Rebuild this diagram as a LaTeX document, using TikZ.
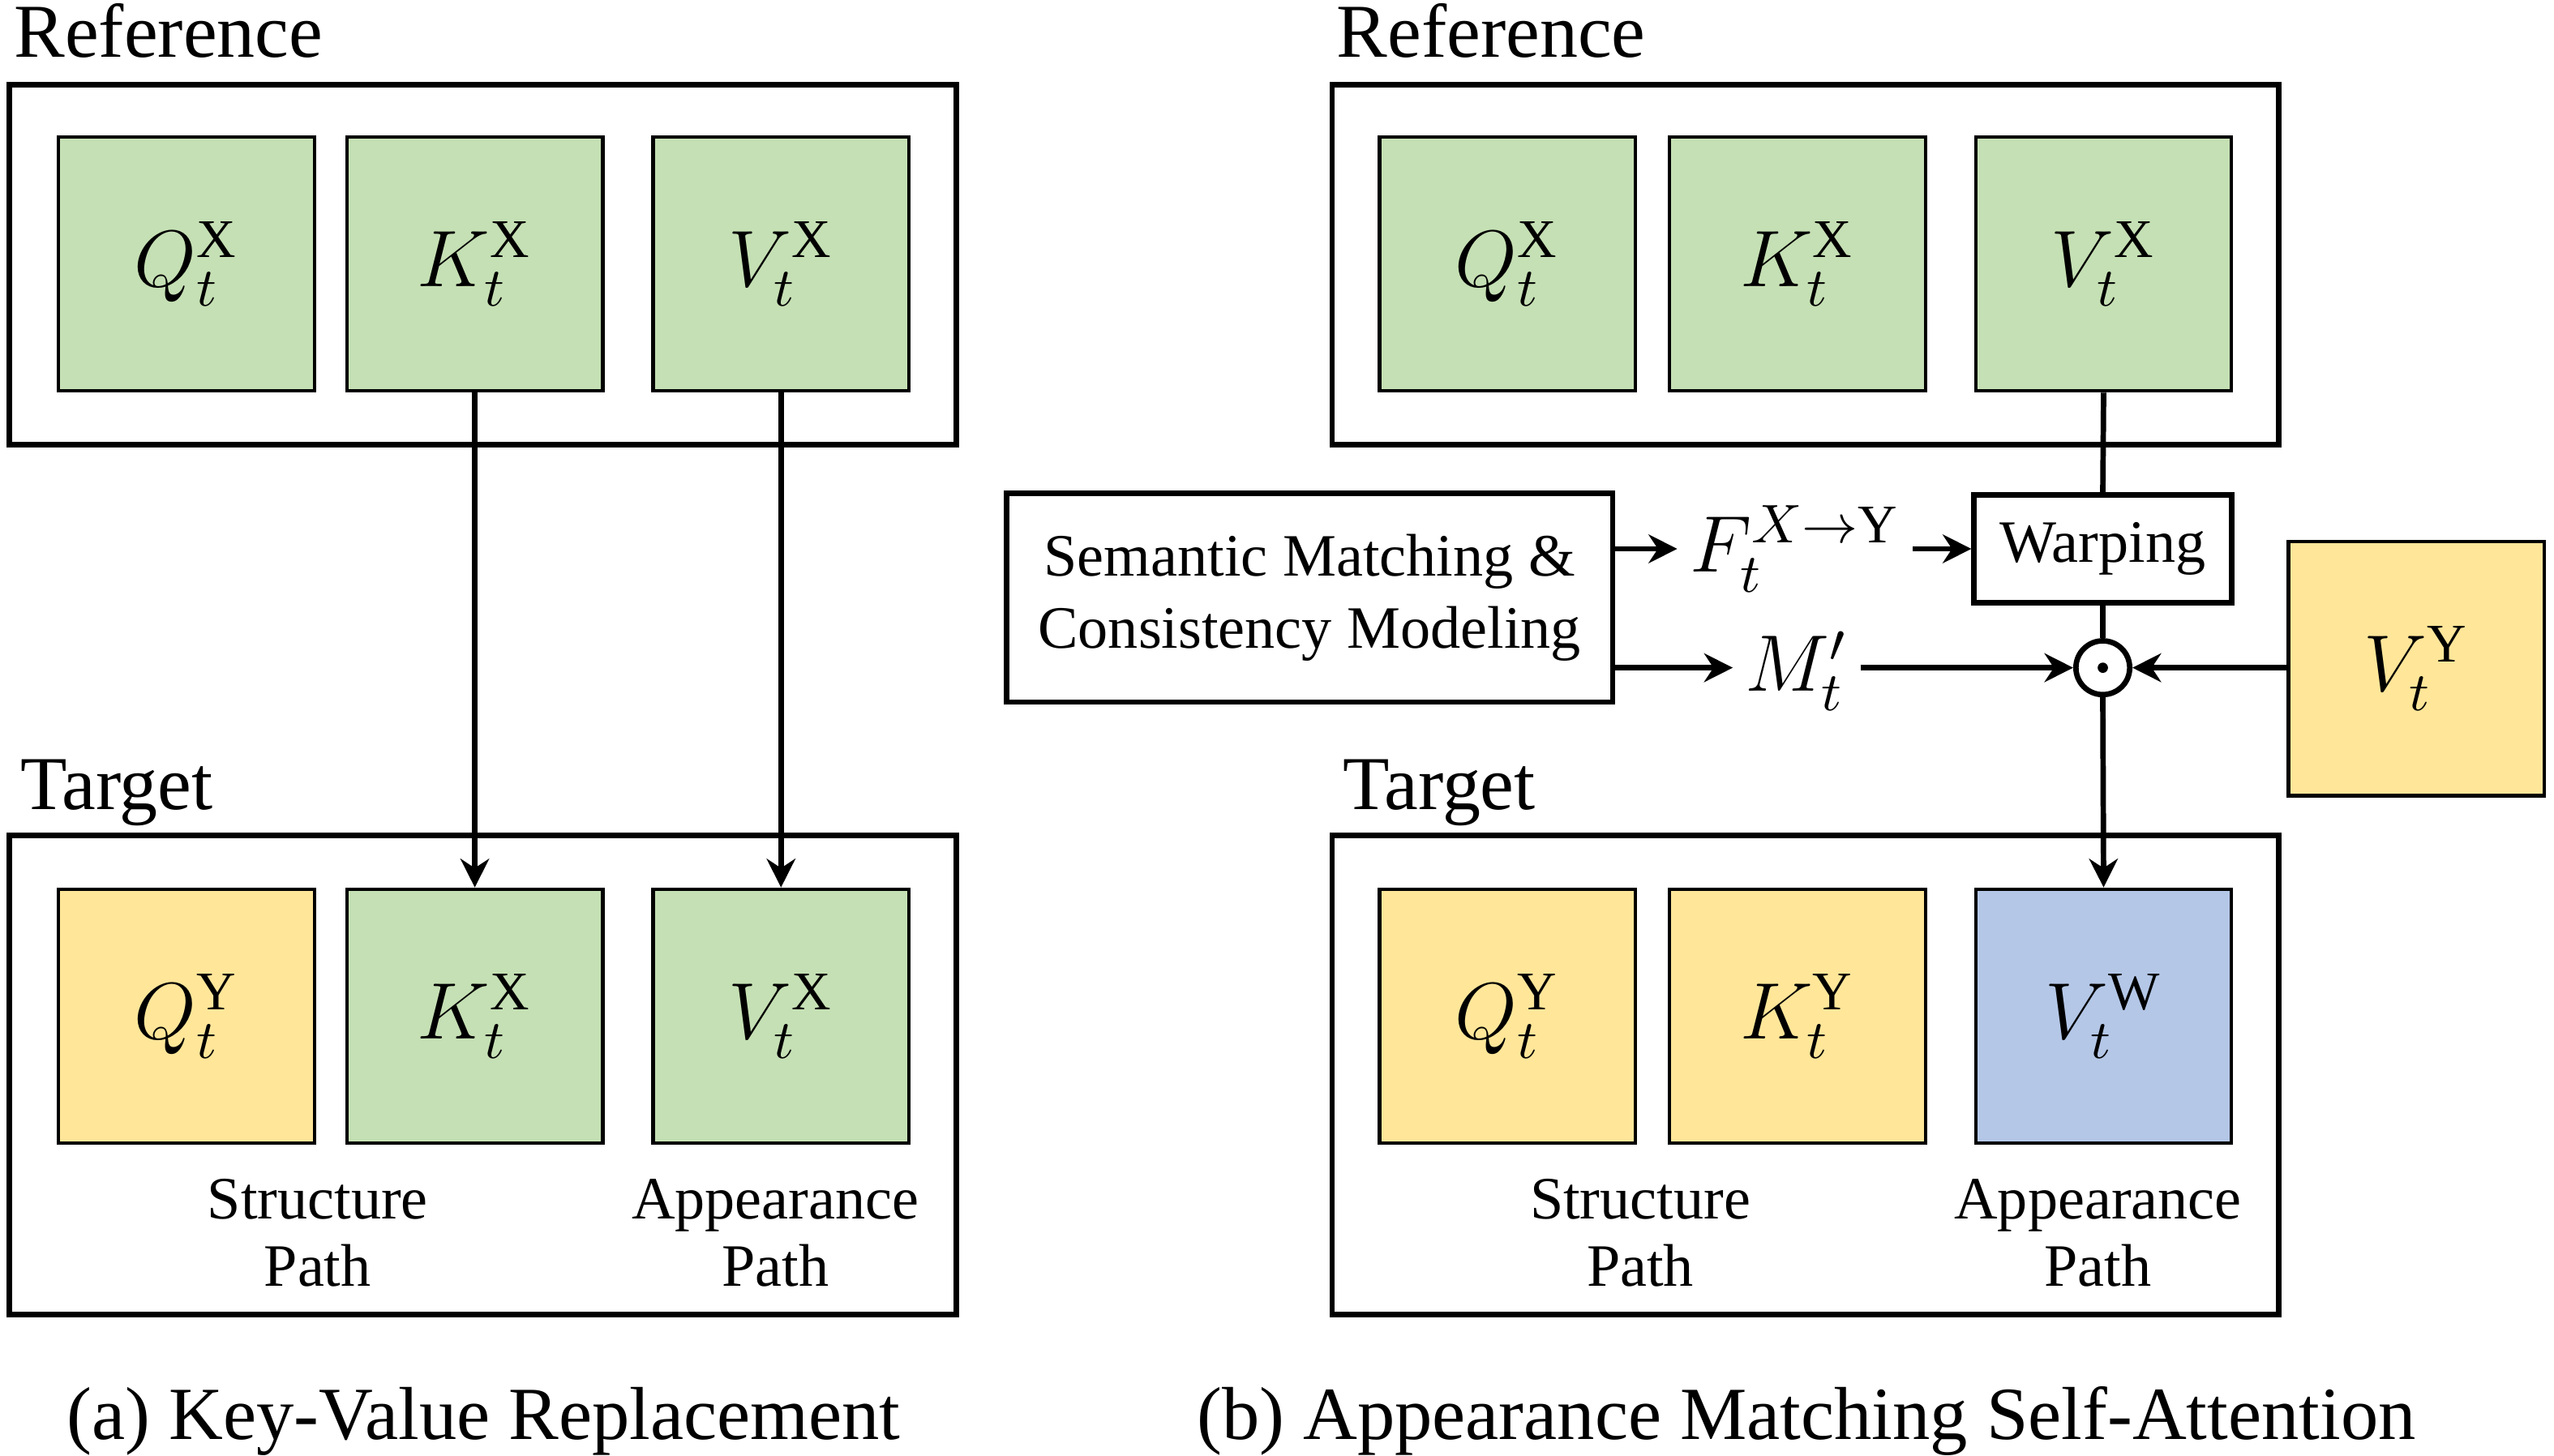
\RequirePackage{fix-cm}
\documentclass[tikz,border=0pt]{standalone}
\usepackage{fontspec}
\setmainfont{Liberation Serif}
\usepackage{tikz}
\usetikzlibrary{arrows.meta, positioning}

\DeclareMathSizes{14}{14}{9.5}{7}

\definecolor{refgreen}{HTML}{C5E0B4}
\definecolor{tgtyellow}{HTML}{FFE699}
\definecolor{warpblue}{HTML}{B4C7E7}

\begin{document}
\begin{tikzpicture}[x=0.01cm, y=-0.01cm,
    panel/.style={rectangle, draw=black, line width=0.95pt, minimum width=5.81cm, inner sep=0},
    mat/.style={rectangle, draw=black, line width=0.6pt, minimum width=1.57cm, minimum height=1.56cm, inner sep=0, font=\fontsize{14}{16}\selectfont},
    src/.style={mat, fill=refgreen},
    tgt/.style={mat, fill=tgtyellow},
    warped/.style={mat, fill=warpblue},
    block/.style={rectangle, draw=black, line width=0.95pt, align=center, inner sep=0, font=\fontsize{10.5}{12.5}\selectfont},
    arrow/.style={-{Stealth[length=5pt, width=5pt]}, line width=0.95pt},
    link/.style={line width=0.95pt},
    title/.style={anchor=base west, inner sep=0, font=\fontsize{13.3}{16}\selectfont},
    pathlbl/.style={align=center, inner sep=0, font=\fontsize{10.5}{11.7}\selectfont},
    caption/.style={anchor=base, inner sep=0, font=\fontsize{13.1}{16}\selectfont},
    sym/.style={inner sep=2pt, font=\fontsize{14}{16}\selectfont}
]
\useasboundingbox (0,0) rectangle (1568,894);

% (a) Reference
\node[title] (refta) at (8,35) {Reference};
\node[panel, minimum height=2.21cm] (refa) at (296.5,162.5) {};
\node[src] (qxa) at (114.5,162) {$Q_t^{\mathrm{X}}$};
\node[src] (kxa) at (291.5,162) {$K_t^{\mathrm{X}}$};
\node[src] (vxa) at (479.5,162) {$V_t^{\mathrm{X}}$};

% (a) Target
\node[title] (tgtta) at (12,497) {Target};
\node[panel, minimum height=2.94cm] (tgta) at (296.5,660) {};
\node[tgt] (qya) at (114.5,624) {$Q_t^{\mathrm{Y}}$};
\node[src] (kxta) at (291.5,624) {$K_t^{\mathrm{X}}$};
\node[src] (vxta) at (479.5,624) {$V_t^{\mathrm{X}}$};
\node[pathlbl] (spatha) at (195,757) {Structure\\Path};
\node[pathlbl] (apatha) at (476,757) {Appearance\\Path};

% (a) Key/value copies
\draw[arrow] (kxa.south) -- (kxta.north);
\draw[arrow] (vxa.south) -- (vxta.north);

\node[caption] (capa) at (297,884) {(a) Key-Value Replacement};

% (b) Reference
\node[title] (reftb) at (820,35) {Reference};
\node[panel, minimum height=2.21cm] (refb) at (1108.5,162.5) {};
\node[src] (qxb) at (925.5,162) {$Q_t^{\mathrm{X}}$};
\node[src] (kxb) at (1103.5,162) {$K_t^{\mathrm{X}}$};
\node[src] (vxb) at (1291.5,162) {$V_t^{\mathrm{X}}$};

% (b) Matching and warping
\node[block, minimum width=3.72cm, minimum height=1.28cm] (sem) at (804,367) {Semantic Matching \&\\Consistency Modeling};
\node[block, minimum width=1.58cm, minimum height=0.66cm] (warp) at (1291,337) {Warping};
\node[sym] (flow) at (1102,337) {$F_t^{X\rightarrow\mathrm{Y}}$};
\node[sym] (mask) at (1103,412) {$M_t'$};
\node[circle, draw=black, line width=0.95pt, minimum size=0.33cm, inner sep=0] (mul) at (1291,410) {};
\fill (mul.center) circle (0.9pt);
\node[tgt] (vyb) at (1483.5,410.5) {$V_t^{\mathrm{Y}}$};

\draw[link] (vxb.south) -- (warp.north);
\draw[arrow] (sem.east |- flow.west) -- (flow.west);
\draw[arrow] (flow.east) -- (warp.west |- flow.east);
\draw[arrow] (sem.east |- mul.west) -- (mask.west |- mul.west);
\draw[arrow] (mask.east |- mul.west) -- (mul.west);
\draw[arrow] (vyb.west |- mul.east) -- (mul.east);
\draw[link] (warp.south) -- (mul.north);

% (b) Target
\node[title] (tgttb) at (824,497) {Target};
\node[panel, minimum height=2.94cm] (tgtb) at (1108.5,660) {};
\node[tgt] (qyb) at (925.5,624) {$Q_t^{\mathrm{Y}}$};
\node[tgt] (kyb) at (1103.5,624) {$K_t^{\mathrm{Y}}$};
\node[warped] (vwb) at (1291.5,624) {$V_t^{\mathrm{W}}$};
\node[pathlbl] (spathb) at (1007,757) {Structure\\Path};
\node[pathlbl] (apathb) at (1288,757) {Appearance\\Path};

\draw[arrow] (mul.south) -- (vwb.north);

\node[caption] (capb) at (1109,884) {(b) Appearance Matching Self-Attention};
\end{tikzpicture}
\end{document}
